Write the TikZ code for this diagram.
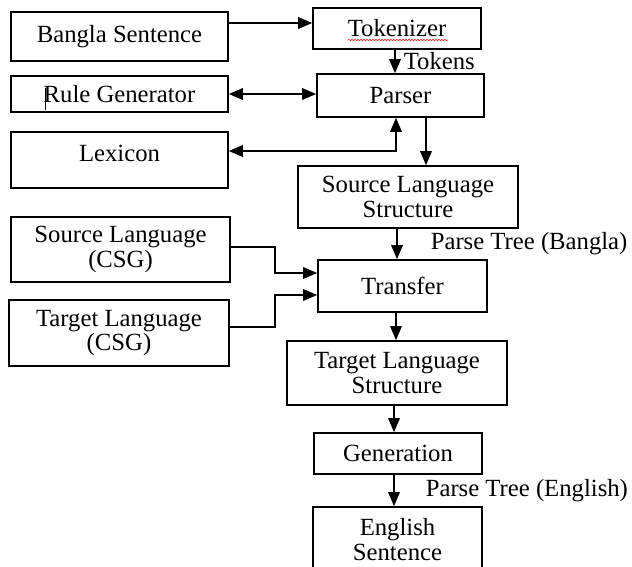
\documentclass[tikz,border=0pt]{standalone}
\usepackage{fontspec}
\setmainfont{Liberation Serif}
\usetikzlibrary{arrows.meta,decorations.pathmorphing}

\begin{document}
\begin{tikzpicture}[x=1pt, y=-1pt]
	\tikzstyle{Box}		= [rectangle, draw, line width=1.6pt, align=center, inner sep=0pt, font=\fontsize{24.7}{24.5}\selectfont]
	\tikzstyle{Note}	= [inner sep=0pt, font=\fontsize{24.7}{24.5}\selectfont]
	\tikzstyle{Flow}	= [line width=1.6pt, -{Triangle[length=14pt, width=11.5pt]}]
	\tikzstyle{Both}	= [line width=1.6pt, {Triangle[length=14pt, width=11.5pt]}-{Triangle[length=14pt, width=11.5pt]}]
	\tikzstyle{Wavy}	= [red, line width=0.5pt, decorate, decoration={snake, amplitude=0.7pt, segment length=3pt}]

	\useasboundingbox (0, 0) rectangle (632, 566);
	\clip (0, 0) rectangle (632, 566);

	% left column
	\node (bangla) at (119.5, 36.5) [Box, minimum width=217pt, minimum height=49pt] {Bangla Sentence};
	\node (rules) at (119.5, 94) [Box, minimum width=217pt, minimum height=36pt] {Rule Generator};
	\node (lexicon) at (119.5, 160) [Box, minimum width=217pt, minimum height=56pt, text height=17pt, text depth=15pt] {Lexicon};
	\node (srccsg) at (120.5, 249.5) [Box, minimum width=219pt, minimum height=65pt] {Source Language\\(CSG)};
	\node (tgtcsg) at (119, 333) [Box, minimum width=220pt, minimum height=66pt] {Target Language\\(CSG)};

	% right column
	\node (tokenizer) at (397, 28.5) [Box, minimum width=168pt, minimum height=41pt] {Tokenizer};
	\node (parser) at (400.5, 95.5) [Box, minimum width=167pt, minimum height=43pt] {Parser};
	\node (sls) at (408, 197) [Box, minimum width=220pt, minimum height=62pt] {Source Language\\Structure};
	\node (transfer) at (402.5, 286) [Box, minimum width=169pt, minimum height=52pt] {Transfer};
	\node (tls) at (397, 373) [Box, minimum width=220pt, minimum height=64pt] {Target Language\\Structure};
	\node (gen) at (398, 453.5) [Box, minimum width=168pt, minimum height=41pt] {Generation};
	\node (english) at (397.5, 539.5) [Box, minimum width=169pt, minimum height=65pt] {English\\Sentence};

	% marks left in the picture
	\draw [Wavy] ([shift={(-49, 11.5)}]tokenizer.center) -- ([shift={(51, 11.5)}]tokenizer.center);
	\draw [line width=0.5pt] ([shift={(-74.5, -6)}]rules.center) -- ([shift={(-74.5, 16)}]rules.center);

	\draw [Flow] ([yshift=13.5pt]bangla.east) -- ([yshift=5.5pt]tokenizer.west);
	\draw [Flow] ([xshift=-2pt]tokenizer.south) -- ([xshift=-5.5pt]parser.north)
		node [Note, midway, right, xshift=8pt] (tokens) {Tokens};
	\draw [Both] (rules.east) -- ([yshift=1.5pt]parser.west);
	\draw [Both] ([xshift=-4.5pt]parser.south) |- ([yshift=9pt]lexicon.east);
	\draw [Flow] ([xshift=25.5pt]parser.south) -- ([xshift=18pt]sls.north);
	\draw [Flow] ([xshift=-11pt]sls.south) -- ([xshift=-5.5pt]transfer.north)
		node [Note, midway, right, xshift=33pt] (treebn) {Parse Tree (Bangla)};
	\draw [Flow] ([yshift=2.5pt]srccsg.east) -- ++(44, 0) |- ([yshift=13pt]transfer.west);
	\draw [Flow] ([yshift=6pt]tgtcsg.east) -- ++(45, 0) |- ([yshift=-9pt]transfer.west);
	\draw [Flow] ([xshift=-6.5pt]transfer.south) -- ([xshift=-1pt]tls.north);
	\draw [Flow] ([xshift=-3pt]tls.south) -- ([xshift=-4pt]gen.north);
	\draw [Flow] ([xshift=-4pt]gen.south) -- ([xshift=-3.5pt]english.north)
		node [Note, midway, right, xshift=31pt] (treeen) {Parse Tree (English)};
\end{tikzpicture}
\end{document}
